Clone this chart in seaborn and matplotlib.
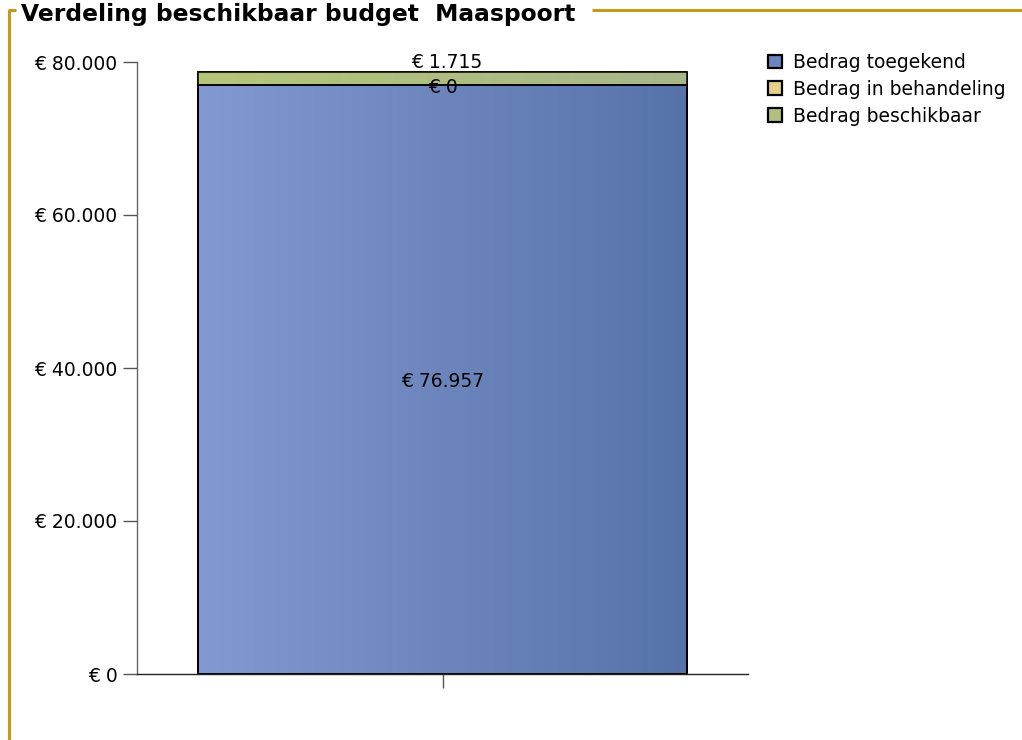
import numpy as np
import pandas as pd
import matplotlib
matplotlib.use("Agg")
import matplotlib.pyplot as plt
from matplotlib.lines import Line2D
from matplotlib.patches import Patch
from matplotlib.colors import LinearSegmentedColormap
from matplotlib.ticker import FuncFormatter
import seaborn as sns

# Budget breakdown for one location
categories = ["Maaspoort"]
series = ["Bedrag toegekend", "Bedrag in behandeling", "Bedrag beschikbaar"]
toegekend = [76957]
in_behandeling = [0]
beschikbaar = [1715]
y_ticks = [0, 20000, 40000, 60000, 80000]
title = "Verdeling beschikbaar budget  Maaspoort"

sns.set_theme(style="white")
plt.rcParams["font.family"] = ["DejaVu Sans"]

FS = 13.5


def euro(v):
    return "€ " + f"{int(v):,}".replace(",", ".")


df = pd.DataFrame({
    "locatie": categories,
    series[0]: toegekend,
    series[1]: in_behandeling,
    series[2]: beschikbaar,
})
cum = df[series].cumsum(axis=1)

fig = plt.figure(figsize=(10.22, 7.40), dpi=100)
ax = fig.add_axes([137 / 1022, 1 - 674 / 740, (748 - 137) / 1022, (674 - 62) / 740])

# gradient colours (left -> right) per series, plus a flat legend colour
grad = {
    series[0]: ("#8299d1", "#5673a9"),
    series[1]: ("#ecd898", "#dcc27c"),
    series[2]: ("#b5c679", "#a8b78a"),
}
legend_col = {
    series[0]: "#6a85c0",
    series[1]: "#e8d08a",
    series[2]: "#b0c07f",
}

# stacked bars: draw cumulative totals from the top series down
for s in reversed(series):
    before = set(ax.patches)
    sns.barplot(data=cum, x=df["locatie"], y=s, color=legend_col[s],
                edgecolor="black", linewidth=1.1, width=0.8, ax=ax,
                saturation=1)
    new = [p for p in ax.patches if p not in before]
    for p in new:
        x0, y0 = p.get_x(), p.get_y()
        w, h = p.get_width(), p.get_height()
        if h <= 0:
            continue
        cmap = LinearSegmentedColormap.from_list(s, list(grad[s]))
        img = ax.imshow(np.linspace(0, 1, 256).reshape(1, -1), cmap=cmap,
                        extent=[x0, x0 + w, y0, y0 + h], aspect="auto",
                        zorder=p.get_zorder() + 0.01, interpolation="bilinear")
        img.set_clip_path(p)
        # keep the black outline above the gradient
        edge = plt.Rectangle((x0, y0), w, h, fill=False, edgecolor="black",
                             linewidth=1.1, zorder=p.get_zorder() + 0.02)
        ax.add_patch(edge)

ax.set_xlim(-0.5, 0.5)
ax.set_ylim(0, 80000)
ax.set_yticks(y_ticks)
ax.yaxis.set_major_formatter(FuncFormatter(lambda v, _: euro(v)))
ax.set_xticks([0])
ax.set_xticklabels([""])
ax.set_xlabel("")
ax.set_ylabel("")
ax.tick_params(axis="y", which="both", left=True, length=10, width=1,
               color="#555555", labelsize=FS, pad=4, labelcolor="black")
ax.tick_params(axis="x", which="both", bottom=True, length=10, width=1,
               color="#555555")
for side in ["top", "right"]:
    ax.spines[side].set_visible(False)
ax.spines["left"].set_color("#666666")
ax.spines["left"].set_linewidth(1)
ax.spines["bottom"].set_color("#222222")
ax.spines["bottom"].set_linewidth(1)

# value labels
tot = cum[series[2]].iloc[0]
ax.annotate(euro(beschikbaar[0]), (0, tot),
            xytext=(3, 0), textcoords="offset points", ha="center", va="bottom",
            fontsize=FS, color="black", zorder=10)
ax.annotate(euro(in_behandeling[0]),
            (0, cum[series[1]].iloc[0]), xytext=(0, -1.5), textcoords="offset points",
            ha="center", va="center", fontsize=FS, color="black", zorder=10)
ax.annotate(euro(toegekend[0]), (0, toegekend[0] / 2),
            xytext=(0, -1), textcoords="offset points", ha="center", va="center",
            fontsize=FS, color="black", zorder=10)

# legend
handles = [Patch(facecolor=legend_col[s], edgecolor="black", linewidth=1.6, label=s)
           for s in series]
leg = fig.legend(handles=handles, loc="upper left",
                 bbox_to_anchor=(768 / 1022, 1 - 53 / 740),
                 frameon=False, fontsize=FS, handlelength=0.75, handleheight=0.75,
                 handletextpad=0.6, labelspacing=0.42, borderaxespad=0, borderpad=0)
for t in leg.get_texts():
    t.set_color("black")

# framing border with embedded title
gold = "#c39b18"
fig.add_artist(Line2D([9 / 1022, 9 / 1022], [0, 1 - 10 / 740], color=gold, lw=2.2,
                      transform=fig.transFigure, solid_capstyle="butt"))
fig.add_artist(Line2D([8 / 1022, 16 / 1022], [1 - 10 / 740, 1 - 10 / 740], color=gold,
                      lw=2.2, transform=fig.transFigure, solid_capstyle="butt"))
fig.add_artist(Line2D([592 / 1022, 1], [1 - 10 / 740, 1 - 10 / 740], color=gold,
                      lw=2.2, transform=fig.transFigure, solid_capstyle="butt"))
fig.text(21 / 1022, 1 - 14 / 740, title, fontsize=16.8, fontweight="bold",
         ha="left", va="center", color="black")

fig.savefig("out.png", dpi=100, facecolor="white")
